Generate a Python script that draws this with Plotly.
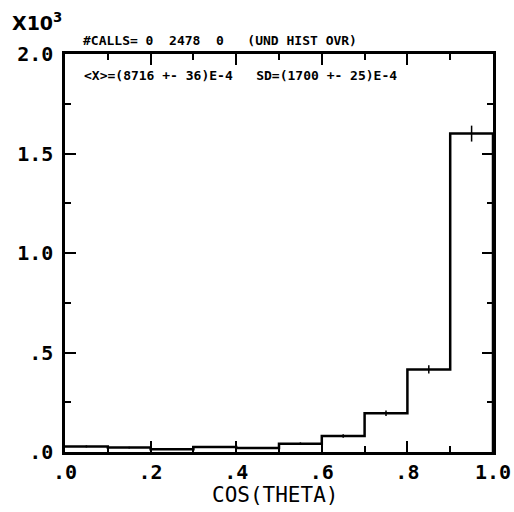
import numpy as np
import plotly.graph_objects as go

bin_edges = [0.0, 0.1, 0.2, 0.3, 0.4, 0.5, 0.6, 0.7, 0.8, 0.9, 1.0]
counts = [28, 22, 14, 25, 20, 42, 80, 195, 415, 1600]
x_tickvals = [0.0, 0.2, 0.4, 0.6, 0.8, 1.0]
x_ticktext = [".0", ".2", ".4", ".6", ".8", "1.0"]
x_minor = [0.1, 0.3, 0.5, 0.7, 0.9]
y_tickvals = [0, 500, 1000, 1500, 2000]
y_ticktext = [".0", ".5", "1.0", "1.5", "2.0"]
y_minor = [250, 750, 1250, 1750]

centers = [(bin_edges[i] + bin_edges[i + 1]) / 2 for i in range(len(counts))]
errors = [float(np.sqrt(c)) for c in counts]

step_x = bin_edges + [bin_edges[-1]]
step_y = counts + [counts[-1], 0]

fig = go.Figure()
fig.add_trace(go.Scatter(x=step_x, y=step_y, mode="lines",
                         line=dict(shape="hv", color="black", width=2.5),
                         hoverinfo="skip", showlegend=False))
fig.add_trace(go.Scatter(x=centers, y=counts, mode="markers",
                         marker=dict(size=1, color="black"),
                         error_y=dict(type="data", array=errors, visible=True,
                                      color="black", thickness=1.5, width=0),
                         showlegend=False))
fig.add_trace(go.Scatter(x=[], y=[], xaxis="x2", yaxis="y2", showlegend=False))
fig.add_trace(go.Scatter(x=[], y=[], xaxis="x3", yaxis="y3", showlegend=False))

mono = "DejaVu Sans Mono"
tickfont = dict(family=mono, size=20, color="black", weight="bold")
common = dict(ticks="inside", tickwidth=2, tickcolor="black",
              showline=True, linewidth=2.5, linecolor="black", mirror="ticks",
              showgrid=False, zeroline=False, automargin=False)

fig.update_layout(
    width=514, height=512,
    margin=dict(l=65, r=21, t=54, b=60),
    paper_bgcolor="white", plot_bgcolor="white",
    font=dict(family=mono, color="black"),
    xaxis=dict(range=[0, 1.0], tickmode="array", tickvals=x_tickvals, ticktext=x_ticktext,
               ticklen=11, tickfont=tickfont, **common),
    yaxis=dict(range=[0, 2000], tickmode="array", tickvals=y_tickvals, ticktext=y_ticktext,
               ticklen=11, tickfont=tickfont, ticklabelstandoff=5, **common),
    xaxis2=dict(range=[0, 1.0], tickmode="array", tickvals=x_minor, showticklabels=False,
                ticklen=6, overlaying="x", anchor="y2", side="bottom", **common),
    yaxis2=dict(range=[0, 2000], tickmode="array", tickvals=y_minor, showticklabels=False,
                ticklen=6, overlaying="y", anchor="x2", side="left", **common),
    xaxis3=dict(range=[0, 1.0], tickmode="array", tickvals=x_tickvals, showticklabels=False,
                ticklen=11, overlaying="x", anchor="y3", side="bottom", **common),
    yaxis3=dict(range=[0, 2000], tickmode="array", tickvals=y_tickvals, showticklabels=False,
                ticklen=11, overlaying="y", anchor="x3", side="left", **common),
)

fig.add_annotation(text="X10<sup>3</sup>", xref="paper", yref="paper",
                   x=-0.128, y=1.045, xanchor="left", yanchor="bottom", showarrow=False,
                   font=dict(family="DejaVu Sans", size=19, color="black", weight="bold"))
fig.add_annotation(text="<b>#CALLS= 0  2478  0   (UND HIST OVR)</b>", xref="paper", yref="paper",
                   x=0.038, y=1.035, xanchor="left", yanchor="middle", showarrow=False,
                   font=dict(family=mono, size=13, color="black"))
fig.add_annotation(text="<b>&lt;X&gt;=(8716 +- 36)E-4   SD=(1700 +- 25)E-4</b>", xref="paper", yref="paper",
                   x=0.04, y=0.947, xanchor="left", yanchor="middle", showarrow=False,
                   font=dict(family=mono, size=13, color="black"))
fig.add_annotation(text="COS(THETA)", xref="paper", yref="paper",
                   x=0.491, y=-0.108, xanchor="center", yanchor="middle", showarrow=False,
                   font=dict(family=mono, size=21, color="black"))

fig.write_html("out.html", config={"displayModeBar": False},
               post_script="document.body.style.margin='0';document.body.style.overflow='hidden';")
